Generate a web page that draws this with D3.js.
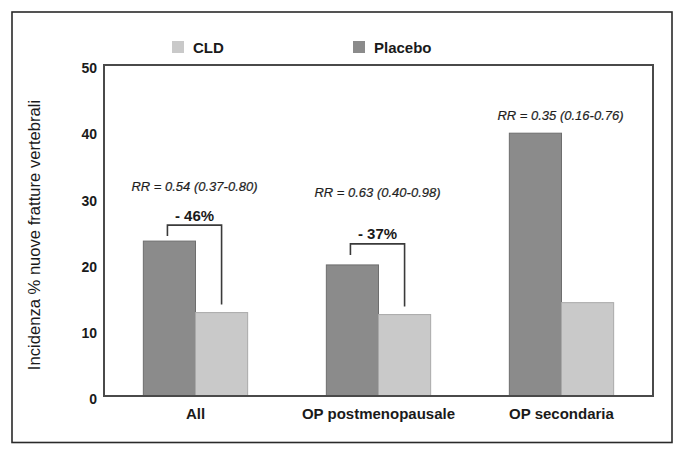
<!DOCTYPE html>
<html>
<head>
<meta charset="utf-8">
<script src="https://cdn.jsdelivr.net/npm/d3@7"></script>
<style>
  html, body { margin: 0; padding: 0; background: #fff; }
  svg { display: block; font-family: "Liberation Sans", Arial, sans-serif; }
</style>
</head>
<body>
<svg id="chart" width="685" height="456"></svg>
<script>
// ---- data ----
const categories = ["All", "OP postmenopausale", "OP secondaria"];
const seriesNames = ["CLD", "Placebo"];
const placebo = [23.4, 19.8, 39.7];
const cld = [12.6, 12.3, 14.1];
const yTicks = [0, 10, 20, 30, 40, 50];
const rrLabels = ["RR = 0.54 (0.37-0.80)", "RR = 0.63 (0.40-0.98)", "RR = 0.35 (0.16-0.76)"];
const rrLevel = [31.6, 30.7, 42.4];
const reductionLabels = ["- 46%", "- 37%", null];
const yLabel = "Incidenza % nuove fratture vertebrali";

// ---- layout / style ----
const colDark = "#8b8b8b", colLight = "#c9c9c9";
const strokeDark = "#6e6e6e", strokeLight = "#a9a9a9";
const plot = { left: 104, right: 653, top: 65, bottom: 396 };
const bracketTopGap = [16, 21];

const svg = d3.select("#chart");

// outer frame
svg.append("rect").attr("x", 12).attr("y", 12).attr("width", 660).attr("height", 430.5)
  .attr("fill", "none").attr("stroke", "#2a2a2a").attr("stroke-width", 1.6);

const x = d3.scaleBand().domain(categories).range([plot.left, plot.right]).padding(0);
const y = d3.scaleLinear().domain([0, 50]).range([plot.bottom, plot.top]);
const bw = x.bandwidth() * 0.285;

// bars
const g = svg.append("g");
categories.forEach((c, i) => {
  const cx = x(c) + x.bandwidth() / 2;
  g.append("rect").attr("x", cx - bw).attr("y", y(placebo[i]))
    .attr("width", bw).attr("height", y(0) - y(placebo[i]))
    .attr("fill", colDark).attr("stroke", strokeDark).attr("stroke-width", 1);
  g.append("rect").attr("x", cx).attr("y", y(cld[i]))
    .attr("width", bw).attr("height", y(0) - y(cld[i]))
    .attr("fill", colLight).attr("stroke", strokeLight).attr("stroke-width", 1);
});

// plot box
svg.append("rect").attr("x", plot.left).attr("y", plot.top)
  .attr("width", plot.right - plot.left).attr("height", plot.bottom - plot.top)
  .attr("fill", "none").attr("stroke", "#4a4a4a").attr("stroke-width", 2);

// y axis (labels only)
const yAxis = d3.axisLeft(y).tickValues(yTicks).tickSize(0).tickPadding(7);
const ya = svg.append("g").attr("transform", `translate(${plot.left},0)`).call(yAxis);
ya.select(".domain").remove();
ya.selectAll("text").attr("font-size", 14).attr("font-weight", "bold")
  .attr("fill", "#1a1a1a").attr("font-family", "Liberation Sans, Arial, sans-serif")
  .attr("dy", "0.55em");

// x axis labels
const xAxis = d3.axisBottom(x).tickSize(0).tickPadding(12);
const xa = svg.append("g").attr("transform", `translate(0,${plot.bottom})`).call(xAxis);
xa.select(".domain").remove();
xa.selectAll("text").attr("font-size", 15).attr("font-weight", "bold")
  .attr("fill", "#1a1a1a").attr("font-family", "Liberation Sans, Arial, sans-serif");

// y label
svg.append("text")
  .attr("transform", `translate(40,235) rotate(-90)`)
  .attr("text-anchor", "middle")
  .attr("font-size", 16.6).attr("fill", "#1a1a1a")
  .text(yLabel);

// legend
const legendX = [172, 353];
seriesNames.forEach((s, i) => {
  svg.append("rect").attr("x", legendX[i]).attr("y", 41).attr("width", 12).attr("height", 12)
    .attr("fill", i === 0 ? colLight : colDark);
  svg.append("text").attr("x", legendX[i] + 21).attr("y", 53)
    .attr("font-size", 15).attr("font-weight", "bold").attr("fill", "#1a1a1a").text(s);
});

// RR labels
categories.forEach((c, i) => {
  svg.append("text")
    .attr("x", x(c) + x.bandwidth() / 2 - 1)
    .attr("y", y(rrLevel[i]) + 4.5)
    .attr("text-anchor", "middle")
    .attr("font-size", 13).attr("font-style", "italic").attr("fill", "#1f1f1f")
    .attr("stroke", "#1f1f1f").attr("stroke-width", 0.2)
    .text(rrLabels[i]);
});

// brackets + reductions
categories.forEach((c, i) => {
  if (!reductionLabels[i]) return;
  const cx = x(c) + x.bandwidth() / 2;
  const x1 = cx - bw / 2 - 2, x2 = cx + bw / 2;
  const top = y(placebo[i]) - bracketTopGap[i];
  const leftBottom = top + 11;
  const rightBottom = y(cld[i]) - 8;
  svg.append("path")
    .attr("d", `M${x1},${leftBottom} V${top} H${x2} V${rightBottom}`)
    .attr("fill", "none").attr("stroke", "#3a3a3a").attr("stroke-width", 1.6);
  svg.append("text")
    .attr("x", (x1 + x2) / 2).attr("y", top - 4.5)
    .attr("text-anchor", "middle")
    .attr("font-size", 15).attr("font-weight", "bold").attr("fill", "#1a1a1a")
    .text(reductionLabels[i]);
});
</script>
</body>
</html>
